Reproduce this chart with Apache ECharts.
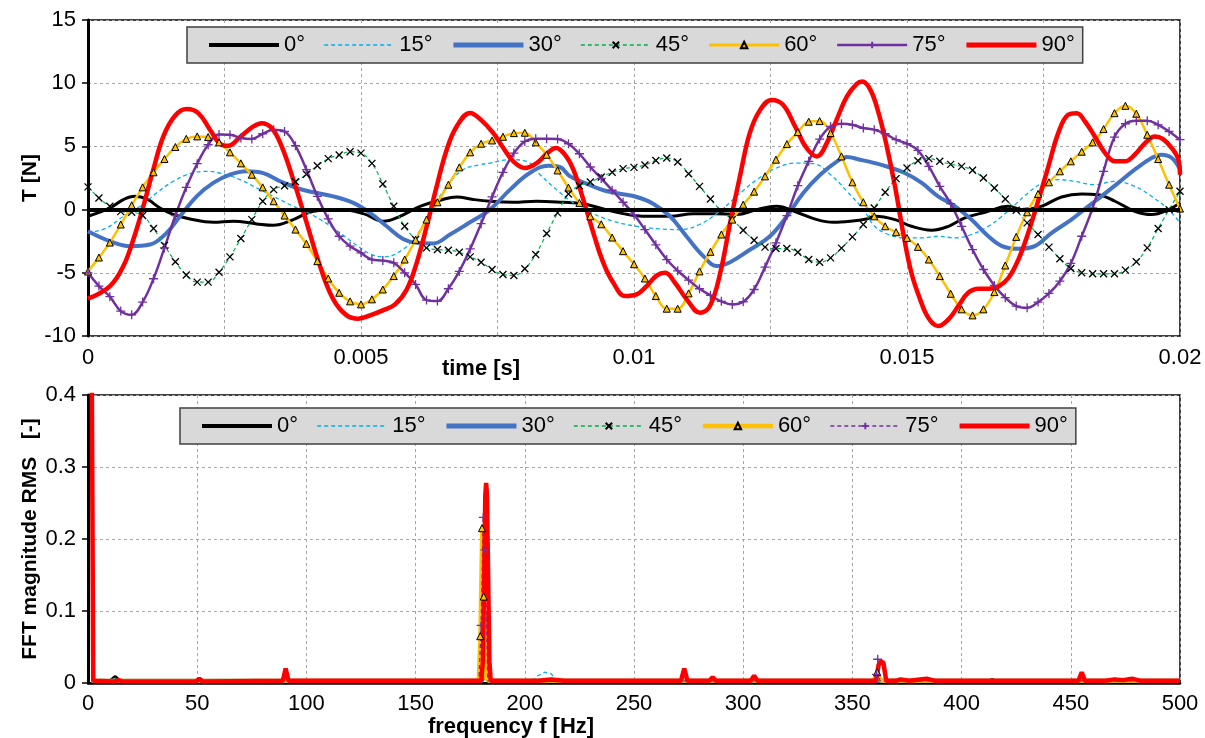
<!DOCTYPE html>
<html>
<head>
<meta charset="utf-8">
<script src="https://cdn.jsdelivr.net/npm/echarts@6/dist/echarts.min.js"></script>
<style>
html, body { margin: 0; padding: 0; background: #fff; }
#chart { width: 1205px; height: 738px; }
</style>
</head>
<body>
<div id="chart"></div>
<script>
// angle names used by both legends
const angles = ['0°', '15°', '30°', '45°', '60°', '75°', '90°']

// ---- top chart: T [N] over time ----
// marker series are sampled every 0.2 ms
const tSample = Array.from({ length: 101 }, (_, i) => +(i * 0.0002).toFixed(4))

const v45 = [1.8, 0.92, 0.26, -0.16, -0.21, -0.47, -1.5, -2.84, -4.13, -5.18,
  -5.74, -5.74, -4.95, -3.74, -2.29, -0.79, 0.66, 1.58, 1.89, 2.21,
  2.79, 3.47, 4.03, 4.32, 4.58, 4.47, 3.66, 2.03, 0.26, -1.32,
  -2.37, -3.03, -3.16, -3.21, -3.37, -3.74, -4.16, -4.74, -5.13, -5.21,
  -4.68, -3.55, -1.89, -0.26, 1.24, 1.89, 2.18, 2.58, 2.95, 3.24,
  3.34, 3.53, 3.89, 4.08, 3.76, 2.84, 1.84, 0.84, -0.13, -0.79,
  -1.63, -2.42, -2.97, -3.08, -3.08, -3.37, -3.95, -4.16, -3.82, -3.05,
  -2.16, -1.18, 0.13, 1.37, 2.45, 3.29, 3.87, 4.03, 3.82, 3.58,
  3.42, 3.11, 2.5, 1.71, 0.84, -0.05, -1.05, -1.97, -2.97, -3.89,
  -4.66, -5.0, -5.08, -5.08, -5.08, -4.79, -4.13, -3.03, -1.5, 0,
  1.45]

const v60 = [-4.9, -3.79, -2.61, -1.18, 0.34, 1.76, 2.95, 4.0, 4.95, 5.6,
  5.79, 5.74, 5.32, 4.53, 3.66, 2.76, 1.76, 0.66, -0.47, -1.58,
  -2.71, -4.08, -5.45, -6.58, -7.26, -7.5, -7.1, -6.32, -5.26, -3.95,
  -2.39, -0.79, 0.58, 1.97, 3.34, 4.53, 5.21, 5.47, 5.76, 6.05,
  6.08, 5.32, 4.34, 3.1, 1.74, 0.53, -0.53, -1.16, -2.21, -3.29,
  -4.32, -5.45, -6.84, -7.84, -7.84, -6.63, -4.89, -3.34, -1.97, -0.79,
  0.39, 1.42, 2.63, 3.95, 5.18, 6.13, 6.95, 7.0, 6.05, 4.21,
  2.16, 0.58, -0.53, -1.32, -1.79, -2.24, -2.95, -3.95, -5.26, -6.66,
  -7.89, -8.37, -7.89, -6.53, -4.42, -2.16, -0.21, 1.24, 2.16, 3.03,
  3.82, 4.58, 5.32, 6.37, 7.63, 8.21, 7.58, 5.92, 4.0, 1.97,
  0.08]

const v75 = [-5.0, -6.05, -6.89, -8.03, -8.32, -7.32, -5.47, -3.03, -0.47, 1.76,
  3.63, 5.13, 5.95, 5.92, 5.66, 5.58, 6.0, 6.32, 6.18, 5.05,
  3.16, 1.05, -0.74, -2.11, -2.89, -3.42, -3.95, -4.03, -4.21, -5.0,
  -5.92, -7.16, -7.24, -6.26, -4.89, -3.11, -1.11, 1.0, 2.95, 4.47,
  5.39, 5.61, 5.61, 5.58, 5.21, 4.42, 3.37, 2.47, 1.53, 0.58,
  -0.39, -1.58, -2.79, -3.95, -4.84, -5.58, -6.26, -6.79, -7.26, -7.5,
  -7.29, -6.32, -4.55, -2.63, -0.47, 1.89, 3.82, 5.58, 6.58, 6.79,
  6.71, 6.45, 6.32, 6.0, 5.53, 5.21, 4.68, 3.42, 1.84, 0.47,
  -1.32, -3.16, -4.74, -6.0, -6.97, -7.63, -7.76, -7.32, -6.63, -5.66,
  -4.26, -2.11, 0.13, 3.03, 5.74, 6.79, 7.03, 7.03, 6.71, 6.18,
  5.53]

// line-only series, read at their turning points (time in ms)
const t0 = [0, 0.403, 0.647, 0.861, 1.075, 1.319, 1.563, 1.868, 2.295, 2.66, 3.09, 3.394, 3.76, 4.127, 4.615, 5.04, 5.41, 5.714, 6.08, 6.447, 6.752, 7.057,
  7.36, 7.79, 8.21, 8.7, 9.07, 9.44, 9.8, 10.23, 10.66, 11.09, 11.51, 11.88, 12.25, 12.61, 12.98, 13.35, 13.65, 13.96, 14.26,
  14.41, 14.78, 15.08, 15.45, 15.76, 16.06, 16.43, 16.86, 17.1, 17.46, 17.83, 18.2, 18.5, 18.81, 19.17, 19.48, 19.79, 20.0]
const v0 = [-0.53, 0.13, 0.79, 1.05, 0.84, 0.13, -0.39, -0.74, -1.0, -0.92, -1.13, -1.24, -0.79, -0.13, 0, -0.32, -0.92, -0.53, 0.26, 0.74, 1.0, 0.8,
  0.66, 0.58, 0.66, 0.58, 0.47, 0.05, -0.32, -0.53, -0.53, -0.32, -0.32, -0.39, 0, 0.26, -0.21, -0.79, -1.0, -0.92, -0.74,
  -0.53, -0.79, -1.32, -1.63, -1.32, -0.66, -0.21, 0.26, 0, 0.26, 1.0, 1.24, 1.18, 0.66, -0.13, -0.39, 0, 0.53]

const t15 = [0, 0.342, 0.647, 0.952, 1.257, 1.563, 1.868, 2.173, 2.478, 2.784, 3.09, 3.394, 3.76, 4.127, 4.49, 4.86, 5.165, 5.41, 5.65, 5.96, 6.26, 6.57, 6.87, 7.18,
  7.36, 7.73, 8.03, 8.28, 8.58, 8.89, 9.25, 9.62, 10.05, 10.48, 10.84, 11.2, 11.57, 11.88, 12.25, 12.61, 12.98, 13.29, 13.6, 13.9, 14.2,
  14.41, 14.66, 14.96, 15.27, 15.57, 15.88, 16.18, 16.49, 16.74, 16.98, 17.22, 17.46, 17.77, 18.07, 18.44, 18.81, 19.17, 19.48, 19.79, 20.0]
const v15 = [-1.84, -1.45, -0.53, 0.26, 1.32, 2.24, 2.84, 3.03, 2.82, 2.37, 1.71, 1.05, 0.26, -0.47, -1.45, -2.63, -3.5, -3.74, -3.47, -2.37, -0.26, 1.84, 3.16, 3.55,
  3.68, 3.95, 3.82, 2.76, 1.58, 0.53, -0.32, -0.92, -1.32, -1.53, -1.58, -1.18, -0.13, 1.05, 2.37, 3.29, 3.68, 3.63, 2.76, 1.45, 0,
  -1.32, -1.97, -2.24, -2.24, -2.11, -2.24, -1.97, -1.32, -0.53, 0.39, 1.32, 2.05, 2.37, 2.24, 1.97, 2.24, 1.84, 1.05, 0, -1.05]

const t30 = [0, 0.403, 0.77, 1.136, 1.44, 1.685, 1.99, 2.295, 2.6, 2.9, 3.21, 3.52, 3.82, 4.127, 4.49, 4.86, 5.165, 5.47, 5.77, 6.02, 6.325, 6.63, 6.93,
  7.36, 7.73, 8.09, 8.43, 8.64, 8.83, 9.13, 9.44, 9.74, 10.05, 10.35, 10.66, 10.96, 11.27, 11.52, 11.76, 12.13, 12.49, 12.8, 13.1, 13.41, 13.72, 13.9, 14.14,
  14.41, 14.66, 14.96, 15.27, 15.57, 15.88, 16.18, 16.49, 16.74, 17.04, 17.34, 17.65, 18.01, 18.32, 18.56, 18.87, 19.17, 19.48, 19.66, 19.85, 20.0]
const v30 = [-1.71, -2.5, -2.89, -2.76, -1.84, -0.53, 1.05, 2.11, 2.76, 3.03, 2.89, 2.24, 1.71, 1.37, 1.05, 0.53, -0.26, -1.32, -2.32, -2.63, -2.68, -1.97, -1.18,
  0, 1.58, 2.89, 3.47, 3.37, 2.63, 2.05, 1.53, 1.26, 1.0, 0.47, -0.53, -2.11, -3.68, -4.47, -4.16, -3.16, -2.11, -0.53, 1.32, 2.76, 3.82, 4.16, 3.95,
  3.68, 3.37, 2.89, 2.11, 1.05, 0.26, -0.79, -2.11, -2.89, -3.1, -2.89, -1.84, -0.79, 0.26, 1.05, 2.11, 3.16, 4.08, 4.34, 4.08, 3.16]

const t90 = [0, 0.403, 0.647, 0.83, 1.013, 1.196, 1.38, 1.593, 1.807, 2.02, 2.234, 2.418, 2.57, 2.784, 3.028, 3.18, 3.364, 3.547, 3.76, 4.005, 4.249, 4.493,
  4.738, 4.951, 5.165, 5.409, 5.623, 5.837, 6.02, 6.203, 6.386, 6.57, 6.752, 7.0, 7.198, 7.424, 7.607, 7.79, 8.004, 8.218, 8.401, 8.571, 8.736, 8.889,
  9.072, 9.255, 9.438, 9.621, 9.835, 10.05, 10.23, 10.42, 10.57, 10.75, 10.965, 11.21, 11.39, 11.58, 11.76, 11.94, 12.12, 12.31, 12.52, 12.73, 12.95,
  13.16, 13.35, 13.53, 13.71, 13.9, 14.08, 14.18, 14.33, 14.48, 14.63, 14.78, 14.93, 15.08, 15.24, 15.39, 15.57, 15.76, 15.94, 16.12, 16.31, 16.49,
  16.67, 16.86, 17.04, 17.22, 17.41, 17.59, 17.77, 17.95, 18.11, 18.26, 18.44, 18.63, 18.81, 18.99, 19.17, 19.36, 19.54, 19.69, 19.85, 19.97, 20.0]
const v90 = [-7.05, -6.05, -4.47, -2.37, 0.26, 3.16, 5.79, 7.42, 7.95, 7.63, 6.32, 5.21, 5.05, 5.74, 6.58, 6.84, 6.45, 5.0, 2.37, -1.05, -4.47, -7.1,
  -8.37, -8.63, -8.37, -7.95, -7.5, -6.32, -4.21, -1.32, 1.84, 4.74, 6.58, 7.65, 7.1, 6.05, 4.87, 3.82, 3.29, 3.68, 4.42, 4.87, 4.34, 3.16,
  0.79, -1.84, -4.21, -5.79, -6.84, -6.71, -6.05, -5.21, -5.0, -5.79, -7.1, -8.16, -7.63, -5.0, -1.05, 2.63, 6.05, 7.89, 8.68, 8.29, 6.58,
  4.87, 4.21, 5.26, 7.1, 8.95, 9.95, 10.13, 9.47, 7.63, 5.0, 1.84, -1.84, -5.0, -7.1, -8.55, -9.21, -8.68, -7.63, -6.58, -6.26, -6.26,
  -6.1, -5.39, -3.95, -1.84, 0.79, 3.42, 6.05, 7.5, 7.63, 6.97, 5.79, 4.47, 3.82, 3.82, 4.34, 5.26, 5.79, 5.58, 4.87, 3.95, 2.76]

// ---- bottom chart: FFT magnitude over frequency ----
const f0 = [1.7, 6, 10, 12.5, 15, 50, 100, 179.5, 181.5, 183.5, 250, 360, 362, 364, 412, 414, 416, 500]
const a0 = [0.004, 0.002, 0.003, 0.009, 0.002, 0.002, 0.002, 0.002, 0.012, 0.002, 0.002, 0.002, 0.008, 0.002, 0.002, 0.005, 0.002, 0.002]
const f15 = [1.7, 10, 12.5, 15, 179.5, 181.5, 183.5, 203, 206, 209, 212, 215, 500]
const a15 = [0.003, 0.002, 0.007, 0.002, 0.002, 0.06, 0.002, 0.002, 0.01, 0.015, 0.013, 0.002, 0.002]
const f30 = [1.7, 180.5, 181.4, 181.9, 182.5, 183.5, 500]
const a30 = [0.003, 0.003, 0.06, 0.1, 0.06, 0.003, 0.003]
const f45 = [1.7, 179.5, 180.8, 182, 500]
const a45 = [0.003, 0.003, 0.008, 0.003, 0.003]
const f60 = [1.7, 178.8, 179.6, 180.4, 181.2, 182.2, 183.2, 359.5, 361.3, 363, 500]
const a60 = [0.003, 0.003, 0.065, 0.215, 0.12, 0.007, 0.003, 0.003, 0.015, 0.003, 0.003]
const f75 = [1.7, 179, 180, 181, 181.8, 183, 359.5, 361, 361.6, 362.5, 500]
const a75 = [0.003, 0.003, 0.08, 0.23, 0.185, 0.003, 0.003, 0.012, 0.033, 0.003, 0.003]
const f90 = [1.7, 2.4, 12, 14, 16, 49.5, 51, 52.5, 89.2, 90.5, 91.8, 180, 180.8, 181.4, 181.9, 182.3, 182.7, 183.2, 183.8, 184.4,
  206, 212, 218, 271.5, 273, 274.5, 284.5, 286, 287.5, 303.5, 305, 306.5, 360.8, 362, 363, 364.2, 365.5,
  370, 372, 376, 381, 384, 388, 453.5, 455, 456.5, 466, 470, 474, 478, 482, 500]
const a90 = [0.45, 0.003, 0.002, 0.004, 0.002, 0.002, 0.006, 0.002, 0.003, 0.02, 0.003, 0.003, 0.03, 0.15, 0.26, 0.278, 0.26, 0.15, 0.03, 0.003,
  0.003, 0.005, 0.003, 0.003, 0.02, 0.003, 0.003, 0.008, 0.003, 0.003, 0.01, 0.003, 0.003, 0.025, 0.03, 0.028, 0.003,
  0.003, 0.005, 0.003, 0.005, 0.006, 0.003, 0.003, 0.015, 0.003, 0.003, 0.005, 0.004, 0.006, 0.003, 0.003]

const FONT = '"Liberation Sans", Arial, sans-serif'
const xMark = 'path://M0,0L10,10M10,0L0,10'
const plusMark = 'path://M5,0L5,10M0,5L10,5'

const zip = (xs, ys, k = 1) => xs.map((x, i) => [x * k, ys[i]])
// only the peaks of the FFT carry a marker
const peaksOnly = pts => pts.map(p => p[1] >= 0.01 ? p : { value: p, symbol: 'none' })

function lineSeries(name, grid, data, style) {
  return Object.assign({
    name, type: 'line', data,
    xAxisIndex: grid, yAxisIndex: grid,
    symbol: 'none', animation: false, silent: true
  }, style)
}

// line-only series keep an invisible symbol so the legend shows just the line
const noMark = { color: 'rgba(0,0,0,0)', borderColor: 'rgba(0,0,0,0)', borderWidth: 0 }
const styles = {
  black: { lineStyle: { color: '#000', width: 3 }, itemStyle: noMark },
  cyan: { lineStyle: { color: '#00b0f0', width: 1.3, type: [4, 3] }, itemStyle: noMark },
  blue: { lineStyle: { color: '#4472c4', width: 4 }, itemStyle: noMark },
  green: { symbol: xMark, symbolSize: 7, lineStyle: { color: '#00b050', width: 1.2, type: [4, 3] },
    itemStyle: { color: '#000', borderColor: '#000', borderWidth: 1.3 } },
  yellow: { symbol: 'triangle', symbolSize: 7, lineStyle: { color: '#ffc000', width: 2.5 },
    itemStyle: { color: '#ffc000', borderColor: '#000', borderWidth: 1 } },
  purple: { symbol: plusMark, symbolSize: 9, lineStyle: { color: '#7030a0', width: 2.5 },
    itemStyle: { color: '#7030a0', borderColor: '#7030a0', borderWidth: 1.3 } },
  red: { lineStyle: { color: '#ff0000', width: 4.5 }, itemStyle: noMark }
}

const topSeries = [
  lineSeries('0°', 0, zip(t0, v0, 0.001), Object.assign({ smooth: 0.4,
    markLine: { silent: true, symbol: 'none', label: { show: false }, data: [{ yAxis: 0 }],
      lineStyle: { color: '#000', width: 4, type: 'solid' } } }, styles.black)),
  lineSeries('15°', 0, zip(t15, v15, 0.001), Object.assign({ smooth: 0.4 }, styles.cyan)),
  lineSeries('30°', 0, zip(t30, v30, 0.001), Object.assign({ smooth: 0.4 }, styles.blue)),
  lineSeries('45°', 0, zip(tSample, v45), Object.assign({ smooth: 0.4 }, styles.green)),
  lineSeries('60°', 0, zip(tSample, v60), Object.assign({ smooth: 0.4 }, styles.yellow)),
  lineSeries('75°', 0, zip(tSample, v75), Object.assign({ smooth: 0.4 }, styles.purple)),
  lineSeries('90°', 0, zip(t90, v90, 0.001), Object.assign({ smooth: 0.4 }, styles.red))
]

const fftStyles = [
  styles.black,
  styles.cyan,
  styles.blue,
  styles.green,
  Object.assign({}, styles.yellow, { lineStyle: { color: '#ffc000', width: 4 } }),
  Object.assign({}, styles.purple, { lineStyle: { color: '#7030a0', width: 1.3, type: [4, 3] } }),
  styles.red
]
const fftData = [zip(f0, a0), zip(f15, a15), zip(f30, a30), peaksOnly(zip(f45, a45)),
  peaksOnly(zip(f60, a60)), peaksOnly(zip(f75, a75)), zip(f90, a90)]
const bottomSeries = angles.map((a, i) => lineSeries('FFT ' + a, 1, fftData[i], fftStyles[i]))

// legend icons draw a thin line by default, so give each entry its own width
const topIconWidths = [4, 1.3, 5, 1.3, 3, 2.5, 5]
const bottomIconWidths = [4, 1.3, 5, 1.3, 4.5, 1.3, 5]

function legendAt(left, top, names, widths) {
  return {
    left, top, selectedMode: false,
    data: names.map((n, i) => ({ name: n, lineStyle: { width: widths[i] } })),
    formatter: n => n.replace('FFT ', ''),
    backgroundColor: '#d9d9d9', borderColor: '#404040', borderWidth: 1.5, borderRadius: 0,
    padding: [7, 8, 7, 20], itemGap: 18.5, itemWidth: 70, itemHeight: 8,
    textStyle: { fontFamily: FONT, fontSize: 22, color: '#000' }
  }
}

const gridLine = { show: true, lineStyle: { color: '#a6a6a6', width: 1, type: [3, 3] } }
const tickLabel = { color: '#000', fontFamily: FONT, fontSize: 22 }

function yAxisFor(grid, min, max, interval, name, fmt) {
  return {
    gridIndex: grid, type: 'value', min, max, interval,
    name, nameLocation: 'middle', nameGap: 47, nameMoveOverlap: false,
    nameTextStyle: { fontFamily: FONT, fontSize: 21, fontWeight: 'bold', color: '#000' },
    axisLine: { show: true, lineStyle: { color: '#000', width: 3 } },
    axisTick: { show: true, length: 6, lineStyle: { color: '#000', width: 1.5 } },
    axisLabel: Object.assign({ margin: 12, formatter: fmt }, tickLabel),
    splitLine: gridLine
  }
}

const option = {
  backgroundColor: '#fff',
  animation: false,
  grid: [
    { left: 88, top: 20, width: 1092, height: 316, show: true, borderColor: '#000', borderWidth: 1.5 },
    { left: 88, top: 395, width: 1092, height: 288, show: true, borderColor: '#000', borderWidth: 1.5 }
  ],
  legend: [
    legendAt(187, 27, angles, topIconWidths),
    legendAt(180, 408, angles.map(a => 'FFT ' + a), bottomIconWidths)
  ],
  xAxis: [
    {
      gridIndex: 0, type: 'value', min: 0, max: 0.02, interval: 0.0025,
      axisLine: { show: false, onZero: false }, axisTick: { show: false },
      axisLabel: Object.assign({ margin: 11, formatter: v => {
        const k = v / 0.005
        return Math.abs(k - Math.round(k)) < 1e-6 ? String(+v.toFixed(3)) : ''
      } }, tickLabel),
      splitLine: gridLine
    },
    {
      gridIndex: 1, type: 'value', min: 0, max: 500, interval: 50,
      axisLine: { show: true, onZero: false, lineStyle: { color: '#000', width: 2.5 } },
      axisTick: { show: false },
      axisLabel: Object.assign({ margin: 10 }, tickLabel),
      splitLine: gridLine
    }
  ],
  yAxis: [
    yAxisFor(0, -10, 15, 5, 'T [N]', v => String(v)),
    yAxisFor(1, 0, 0.4, 0.1, 'FFT magnitude RMS   [-]', v => String(+v.toFixed(1)))
  ],
  graphic: [
    { type: 'text', x: 481, y: 369, silent: true,
      style: { text: 'time [s]', font: 'bold 22px ' + FONT, fill: '#000', align: 'center', verticalAlign: 'middle' } },
    { type: 'text', x: 511, y: 727, silent: true,
      style: { text: 'frequency f [Hz]', font: 'bold 22px ' + FONT, fill: '#000', align: 'center', verticalAlign: 'middle' } }
  ],
  series: topSeries.concat(bottomSeries)
}

const chart = echarts.init(document.getElementById('chart'), null, { renderer: 'canvas' })
chart.setOption(option)
</script>
</body>
</html>
